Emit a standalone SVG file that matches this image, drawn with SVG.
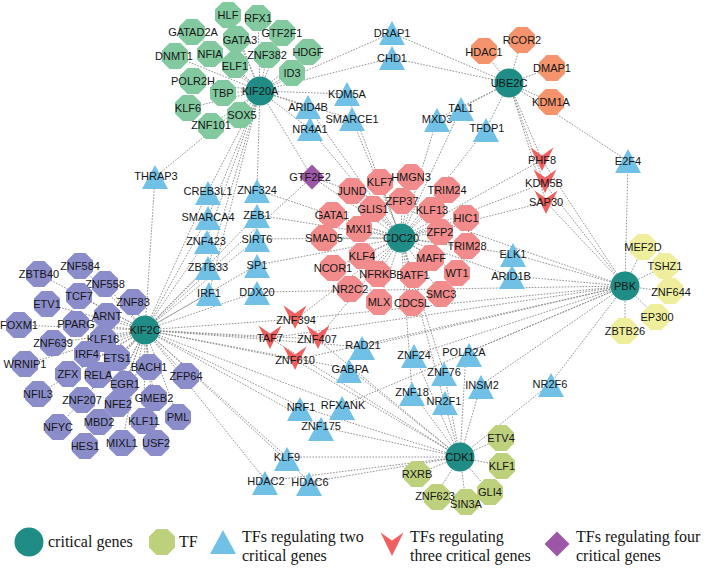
<svg xmlns="http://www.w3.org/2000/svg" xmlns:xlink="http://www.w3.org/1999/xlink" width="707" height="569" viewBox="0 0 707 569">
<style>
.e{stroke:#868686;stroke-width:0.9;stroke-dasharray:1.6 1.4;fill:none}
text{font-family:"Liberation Sans",Arial,sans-serif;font-size:11px;fill:#151515;text-anchor:middle;dominant-baseline:central}
.lg{font-family:"Liberation Serif","Times New Roman",serif;font-size:16px;text-anchor:start;dominant-baseline:alphabetic}
.crit{fill:#1f8d86}
.gA{fill:#82c99f}
.gU{fill:#f4936c}
.gC{fill:#f28c8c}
.gP{fill:#eeee9c}
.gK{fill:#8b8dcb}
.gD{fill:#bdd07c}
.two{fill:#71c1e7}
.three{fill:#ef5f5f}
.four{fill:#9c58a6}
</style>
<defs>
<circle id="cir" r="14.5"/>
<polygon id="oct" points="-5.4,-13 5.4,-13 13,-5.4 13,5.4 5.4,13 -5.4,13 -13,5.4 -13,-5.4"/>
<polygon id="tri" points="0,-12 13,12 -13,12"/>
<polygon id="vee" points="-11.5,-11.5 0,-3.5 11.5,-11.5 0,12"/>
<polygon id="dia" points="0,-12.5 12.5,0 0,12.5 -12.5,0"/>
</defs>
<rect width="707" height="569" fill="#fff"/>
<g id="edges">
<path class="e" d="M260,91L228,15M260,91L193,32M260,91L258,18M260,91L282,33M260,91L240,40M260,91L174,56M260,91L210,54M260,91L235,66M260,91L267,55M260,91L308,52M260,91L292,73M260,91L193,81M260,91L223,93M260,91L188,108M260,91L242,115M260,91L211,125"/>
<path class="e" d="M509,83L484,52M509,83L522,40M509,83L552,68M509,83L551,102"/>
<path class="e" d="M401,238L380,182M401,238L411,177M401,238L447,190M401,238L352,191M401,238L402,201M401,238L373,209M401,238L432,210M401,238L466,218M401,238L332,215M401,238L359,229M401,238L440,232M401,238L324,238M401,238L467,246M401,238L362,256M401,238L431,258M401,238L333,268M401,238L378,274M401,238L413,275M401,238L457,273M401,238L350,289M401,238L441,294M401,238L379,302M401,238L412,303"/>
<path class="e" d="M625,286L643,247M625,286L665,266M625,286L671,292M625,286L657,317M625,286L625,331"/>
<path class="e" d="M145,330L39,274M145,330L80,266M145,330L105,284M145,330L79,296M145,330L47,304M145,330L133,302M145,330L107,316M145,330L19,325M145,330L76,324M145,330L103,339M145,330L53,343M145,330L87,354M145,330L117,358M145,330L25,364M145,330L149,367M145,330L186,376M145,330L68,374M145,330L98,375M145,330L125,384M145,330L38,394M145,330L82,400M145,330L118,404M145,330L154,398M145,330L178,417M145,330L58,427M145,330L99,422M145,330L144,421M145,330L85,446M145,330L122,443M145,330L156,443"/>
<path class="e" d="M460,457L501,438M460,457L502,466M460,457L490,492M460,457L466,503M460,457L435,496M460,457L417,474"/>
<path class="e" d="M260,91L392,33L509,83M260,91L392,58L509,83M260,91L347,94L401,238M260,91L308,107L401,238M260,91L352,119L401,238M260,91L310,129L401,238M509,83L437,119L401,238M509,83L461,108L401,238M509,83L486,129L401,238M509,83L628,161L625,286M260,91L155,177L145,330M260,91L208,191L145,330M260,91L208,217L145,330M260,91L206,241L145,330M260,91L208,267L145,330M260,91L209,293L145,330M260,91L257,190L401,238M145,330L257,215L401,238M145,330L257,239L401,238M145,330L257,265L401,238M145,330L257,292L625,286M401,238L513,254L625,286M401,238L511,276L625,286M145,330L362,347L625,286M145,330L350,369L460,457M625,286L414,355L460,457M625,286L466,353L460,457M401,238L444,372L460,457M625,286L481,385L460,457M625,286L550,384L460,457M401,238L412,392L460,457M401,238L444,401L460,457M145,330L301,407L460,457M145,330L343,405L625,286M145,330L321,427L460,457M145,330L287,457L460,457M145,330L266,481L460,457M145,330L310,482L460,457"/>
<path class="e" d="M509,83L542,160L625,286M542,160L401,238M509,83L544,183L625,286M544,183L401,238M509,83L546,202L625,286M546,202L401,238M145,330L296,319L401,238M296,319L625,286M145,330L270,338L625,286M270,338L460,457M145,330L317,339L401,238M317,339L460,457M145,330L295,360L625,286M295,360L460,457"/>
<path class="e" d="M260,91L312,177L401,238M312,177L145,330M312,177L625,286"/>
</g>
<g id="nodes">
<g id="n-HLF"><use href="#oct" class="gA" x="228" y="15"/><text x="228" y="15">HLF</text></g>
<g id="n-GATAD2A"><use href="#oct" class="gA" x="192" y="32"/><text x="193" y="32">GATAD2A</text></g>
<g id="n-RFX1"><use href="#oct" class="gA" x="258" y="18"/><text x="258" y="18">RFX1</text></g>
<g id="n-GTF2F1"><use href="#oct" class="gA" x="282" y="33"/><text x="282" y="33">GTF2F1</text></g>
<g id="n-GATA3"><use href="#oct" class="gA" x="236" y="39"/><text x="240" y="40">GATA3</text></g>
<g id="n-DNMT1"><use href="#oct" class="gA" x="175" y="56"/><text x="174" y="56">DNMT1</text></g>
<g id="n-NFIA"><use href="#oct" class="gA" x="210" y="54"/><text x="210" y="54">NFIA</text></g>
<g id="n-ELF1"><use href="#oct" class="gA" x="235" y="65"/><text x="235" y="66">ELF1</text></g>
<g id="n-ZNF382"><use href="#oct" class="gA" x="267" y="55"/><text x="267" y="55">ZNF382</text></g>
<g id="n-HDGF"><use href="#oct" class="gA" x="308" y="52"/><text x="308" y="52">HDGF</text></g>
<g id="n-ID3"><use href="#oct" class="gA" x="292" y="73"/><text x="292" y="73">ID3</text></g>
<g id="n-POLR2H"><use href="#oct" class="gA" x="193" y="81"/><text x="193" y="81">POLR2H</text></g>
<g id="n-TBP"><use href="#oct" class="gA" x="223" y="93"/><text x="223" y="93">TBP</text></g>
<g id="n-KLF6"><use href="#oct" class="gA" x="188" y="108"/><text x="188" y="108">KLF6</text></g>
<g id="n-SOX5"><use href="#oct" class="gA" x="240" y="115"/><text x="242" y="115">SOX5</text></g>
<g id="n-ZNF101"><use href="#oct" class="gA" x="211" y="126"/><text x="211" y="125">ZNF101</text></g>

<g id="n-HDAC1"><use href="#oct" class="gU" x="484" y="51"/><text x="484" y="52">HDAC1</text></g>
<g id="n-RCOR2"><use href="#oct" class="gU" x="522" y="40"/><text x="522" y="40">RCOR2</text></g>
<g id="n-DMAP1"><use href="#oct" class="gU" x="552" y="68"/><text x="552" y="68">DMAP1</text></g>
<g id="n-KDM1A"><use href="#oct" class="gU" x="551" y="102"/><text x="551" y="102">KDM1A</text></g>

<g id="n-KLF7"><use href="#oct" class="gC" x="380" y="182"/><text x="380" y="182">KLF7</text></g>
<g id="n-HMGN3"><use href="#oct" class="gC" x="411" y="177"/><text x="411" y="177">HMGN3</text></g>
<g id="n-TRIM24"><use href="#oct" class="gC" x="447" y="190"/><text x="447" y="190">TRIM24</text></g>
<g id="n-JUND"><use href="#oct" class="gC" x="352" y="191"/><text x="352" y="191">JUND</text></g>
<g id="n-ZFP37"><use href="#oct" class="gC" x="402" y="201"/><text x="402" y="201">ZFP37</text></g>
<g id="n-GLIS1"><use href="#oct" class="gC" x="373" y="209"/><text x="373" y="209">GLIS1</text></g>
<g id="n-KLF13"><use href="#oct" class="gC" x="432" y="210"/><text x="432" y="210">KLF13</text></g>
<g id="n-HIC1"><use href="#oct" class="gC" x="466" y="218"/><text x="466" y="218">HIC1</text></g>
<g id="n-GATA1"><use href="#oct" class="gC" x="332" y="215"/><text x="332" y="215">GATA1</text></g>
<g id="n-MXI1"><use href="#oct" class="gC" x="359" y="229"/><text x="359" y="229">MXI1</text></g>
<g id="n-ZFP2"><use href="#oct" class="gC" x="440" y="232"/><text x="440" y="232">ZFP2</text></g>
<g id="n-SMAD5"><use href="#oct" class="gC" x="324" y="238"/><text x="324" y="238">SMAD5</text></g>
<g id="n-TRIM28"><use href="#oct" class="gC" x="467" y="246"/><text x="467" y="246">TRIM28</text></g>
<g id="n-KLF4"><use href="#oct" class="gC" x="362" y="256"/><text x="362" y="256">KLF4</text></g>
<g id="n-MAFF"><use href="#oct" class="gC" x="431" y="258"/><text x="431" y="258">MAFF</text></g>
<g id="n-NCOR1"><use href="#oct" class="gC" x="333" y="268"/><text x="333" y="268">NCOR1</text></g>
<g id="n-NFRKB"><use href="#oct" class="gC" x="378" y="274"/><text x="378" y="274">NFRKB</text></g>
<g id="n-BATF1"><use href="#oct" class="gC" x="413" y="275"/><text x="413" y="275">BATF1</text></g>
<g id="n-WT1"><use href="#oct" class="gC" x="457" y="273"/><text x="457" y="273">WT1</text></g>
<g id="n-NR2C2"><use href="#oct" class="gC" x="350" y="289"/><text x="350" y="289">NR2C2</text></g>
<g id="n-SMC3"><use href="#oct" class="gC" x="441" y="294"/><text x="441" y="294">SMC3</text></g>
<g id="n-MLX"><use href="#oct" class="gC" x="379" y="302"/><text x="379" y="302">MLX</text></g>
<g id="n-CDC5L"><use href="#oct" class="gC" x="412" y="303"/><text x="412" y="303">CDC5L</text></g>

<g id="n-MEF2D"><use href="#oct" class="gP" x="643" y="247"/><text x="643" y="247">MEF2D</text></g>
<g id="n-TSHZ1"><use href="#oct" class="gP" x="665" y="266"/><text x="665" y="266">TSHZ1</text></g>
<g id="n-ZNF644"><use href="#oct" class="gP" x="670" y="291"/><text x="671" y="292">ZNF644</text></g>
<g id="n-EP300"><use href="#oct" class="gP" x="656" y="317"/><text x="657" y="317">EP300</text></g>
<g id="n-ZBTB26"><use href="#oct" class="gP" x="624" y="331"/><text x="625" y="331">ZBTB26</text></g>

<g id="n-ZBTB40"><use href="#oct" class="gK" x="39" y="274"/><text x="39" y="274">ZBTB40</text></g>
<g id="n-ZNF584"><use href="#oct" class="gK" x="80" y="266"/><text x="80" y="266">ZNF584</text></g>
<g id="n-ZNF558"><use href="#oct" class="gK" x="105" y="284"/><text x="105" y="284">ZNF558</text></g>
<g id="n-TCF7"><use href="#oct" class="gK" x="79" y="296"/><text x="79" y="296">TCF7</text></g>
<g id="n-ETV1"><use href="#oct" class="gK" x="47" y="304"/><text x="47" y="304">ETV1</text></g>
<g id="n-ZNF83"><use href="#oct" class="gK" x="133" y="302"/><text x="133" y="302">ZNF83</text></g>
<g id="n-ARNT"><use href="#oct" class="gK" x="107" y="316"/><text x="107" y="316">ARNT</text></g>
<g id="n-FOXM1"><use href="#oct" class="gK" x="19" y="325"/><text x="19" y="325">FOXM1</text></g>
<g id="n-PPARG"><use href="#oct" class="gK" x="76" y="324"/><text x="76" y="324">PPARG</text></g>
<g id="n-KLF16"><use href="#oct" class="gK" x="103" y="339"/><text x="103" y="339">KLF16</text></g>
<g id="n-ZNF639"><use href="#oct" class="gK" x="53" y="343"/><text x="53" y="343">ZNF639</text></g>
<g id="n-IRF4"><use href="#oct" class="gK" x="87" y="354"/><text x="87" y="354">IRF4</text></g>
<g id="n-ETS1"><use href="#oct" class="gK" x="117" y="358"/><text x="117" y="358">ETS1</text></g>
<g id="n-WRNIP1"><use href="#oct" class="gK" x="25" y="364"/><text x="25" y="364">WRNIP1</text></g>
<g id="n-BACH1"><use href="#oct" class="gK" x="149" y="367"/><text x="149" y="367">BACH1</text></g>
<g id="n-ZFP64"><use href="#oct" class="gK" x="186" y="376"/><text x="186" y="376">ZFP64</text></g>
<g id="n-ZFX"><use href="#oct" class="gK" x="68" y="374"/><text x="68" y="374">ZFX</text></g>
<g id="n-RELA"><use href="#oct" class="gK" x="98" y="375"/><text x="98" y="375">RELA</text></g>
<g id="n-EGR1"><use href="#oct" class="gK" x="125" y="384"/><text x="125" y="384">EGR1</text></g>
<g id="n-NFIL3"><use href="#oct" class="gK" x="38" y="394"/><text x="38" y="394">NFIL3</text></g>
<g id="n-ZNF207"><use href="#oct" class="gK" x="82" y="400"/><text x="82" y="400">ZNF207</text></g>
<g id="n-NFE2"><use href="#oct" class="gK" x="118" y="404"/><text x="118" y="404">NFE2</text></g>
<g id="n-GMEB2"><use href="#oct" class="gK" x="154" y="398"/><text x="154" y="398">GMEB2</text></g>
<g id="n-PML"><use href="#oct" class="gK" x="178" y="417"/><text x="178" y="417">PML</text></g>
<g id="n-NFYC"><use href="#oct" class="gK" x="58" y="427"/><text x="58" y="427">NFYC</text></g>
<g id="n-MBD2"><use href="#oct" class="gK" x="99" y="422"/><text x="99" y="422">MBD2</text></g>
<g id="n-KLF11"><use href="#oct" class="gK" x="144" y="421"/><text x="144" y="421">KLF11</text></g>
<g id="n-HES1"><use href="#oct" class="gK" x="85" y="446"/><text x="85" y="446">HES1</text></g>
<g id="n-MIXL1"><use href="#oct" class="gK" x="122" y="443"/><text x="122" y="443">MIXL1</text></g>
<g id="n-USF2"><use href="#oct" class="gK" x="156" y="443"/><text x="156" y="443">USF2</text></g>

<g id="n-ETV4"><use href="#oct" class="gD" x="501" y="438"/><text x="501" y="438">ETV4</text></g>
<g id="n-KLF1"><use href="#oct" class="gD" x="502" y="466"/><text x="502" y="466">KLF1</text></g>
<g id="n-GLI4"><use href="#oct" class="gD" x="490" y="492"/><text x="490" y="492">GLI4</text></g>
<g id="n-SIN3A"><use href="#oct" class="gD" x="466" y="502"/><text x="466" y="504">SIN3A</text></g>
<g id="n-ZNF623"><use href="#oct" class="gD" x="437" y="497"/><text x="435" y="496">ZNF623</text></g>
<g id="n-RXRB"><use href="#oct" class="gD" x="417" y="474"/><text x="417" y="474">RXRB</text></g>

<g id="n-DRAP1"><use href="#tri" class="two" x="392" y="33"/><text x="392" y="33">DRAP1</text></g>
<g id="n-CHD1"><use href="#tri" class="two" x="392" y="58"/><text x="392" y="58">CHD1</text></g>
<g id="n-KDM5A"><use href="#tri" class="two" x="347" y="94"/><text x="347" y="94">KDM5A</text></g>
<g id="n-ARID4B"><use href="#tri" class="two" x="308" y="107"/><text x="308" y="107">ARID4B</text></g>
<g id="n-SMARCE1"><use href="#tri" class="two" x="352" y="119"/><text x="352" y="119">SMARCE1</text></g>
<g id="n-NR4A1"><use href="#tri" class="two" x="310" y="129"/><text x="310" y="129">NR4A1</text></g>
<g id="n-MXD3"><use href="#tri" class="two" x="437" y="120"/><text x="437" y="119">MXD3</text></g>
<g id="n-TAL1"><use href="#tri" class="two" x="461" y="109"/><text x="461" y="108">TAL1</text></g>
<g id="n-TFDP1"><use href="#tri" class="two" x="486" y="130"/><text x="487" y="128">TFDP1</text></g>
<g id="n-E2F4"><use href="#tri" class="two" x="628" y="161"/><text x="628" y="161">E2F4</text></g>
<g id="n-THRAP3"><use href="#tri" class="two" x="155" y="177"/><text x="156" y="176">THRAP3</text></g>
<g id="n-CREB3L1"><use href="#tri" class="two" x="208" y="193"/><text x="208" y="191">CREB3L1</text></g>
<g id="n-SMARCA4"><use href="#tri" class="two" x="208" y="218"/><text x="208" y="217">SMARCA4</text></g>
<g id="n-ZNF423"><use href="#tri" class="two" x="207" y="242"/><text x="206" y="241">ZNF423</text></g>
<g id="n-ZBTB33"><use href="#tri" class="two" x="208" y="268"/><text x="208" y="267">ZBTB33</text></g>
<g id="n-IRF1"><use href="#tri" class="two" x="209" y="294"/><text x="209" y="293">IRF1</text></g>
<g id="n-ZNF324"><use href="#tri" class="two" x="257" y="191"/><text x="257" y="190">ZNF324</text></g>
<g id="n-ZEB1"><use href="#tri" class="two" x="257" y="216"/><text x="257" y="215">ZEB1</text></g>
<g id="n-SIRT6"><use href="#tri" class="two" x="257" y="240"/><text x="257" y="239">SIRT6</text></g>
<g id="n-SP1"><use href="#tri" class="two" x="257" y="266"/><text x="257" y="265">SP1</text></g>
<g id="n-DDX20"><use href="#tri" class="two" x="257" y="293"/><text x="257" y="292">DDX20</text></g>
<g id="n-ELK1"><use href="#tri" class="two" x="513" y="255"/><text x="513" y="254">ELK1</text></g>
<g id="n-ARID1B"><use href="#tri" class="two" x="512" y="277"/><text x="511" y="276">ARID1B</text></g>
<g id="n-RAD21"><use href="#tri" class="two" x="362" y="348"/><text x="363" y="345">RAD21</text></g>
<g id="n-GABPA"><use href="#tri" class="two" x="349" y="371"/><text x="350" y="369">GABPA</text></g>
<g id="n-ZNF24"><use href="#tri" class="two" x="414" y="356"/><text x="414" y="355">ZNF24</text></g>
<g id="n-POLR2A"><use href="#tri" class="two" x="469" y="355"/><text x="464" y="352">POLR2A</text></g>
<g id="n-ZNF76"><use href="#tri" class="two" x="444" y="374"/><text x="444" y="372">ZNF76</text></g>
<g id="n-INSM2"><use href="#tri" class="two" x="481" y="387"/><text x="482" y="385">INSM2</text></g>
<g id="n-NR2F6"><use href="#tri" class="two" x="551" y="385"/><text x="550" y="384">NR2F6</text></g>
<g id="n-ZNF18"><use href="#tri" class="two" x="412" y="394"/><text x="412" y="392">ZNF18</text></g>
<g id="n-NR2F1"><use href="#tri" class="two" x="445" y="403"/><text x="444" y="401">NR2F1</text></g>
<g id="n-NRF1"><use href="#tri" class="two" x="300" y="409"/><text x="301" y="407">NRF1</text></g>
<g id="n-RFXANK"><use href="#tri" class="two" x="342" y="408"/><text x="343" y="405">RFXANK</text></g>
<g id="n-ZNF175"><use href="#tri" class="two" x="321" y="429"/><text x="321" y="426">ZNF175</text></g>
<g id="n-KLF9"><use href="#tri" class="two" x="287" y="459"/><text x="287" y="457">KLF9</text></g>
<g id="n-HDAC2"><use href="#tri" class="two" x="265" y="483"/><text x="266" y="481">HDAC2</text></g>
<g id="n-HDAC6"><use href="#tri" class="two" x="309" y="484"/><text x="310" y="482">HDAC6</text></g>

<g id="n-PHF8"><use href="#vee" class="three" x="542" y="159"/><text x="542" y="160">PHF8</text></g>
<g id="n-KDM5B"><use href="#vee" class="three" x="545" y="181"/><text x="544" y="183">KDM5B</text></g>
<g id="n-SAP30"><use href="#vee" class="three" x="546" y="202"/><text x="546" y="202">SAP30</text></g>
<g id="n-ZNF394"><use href="#vee" class="three" x="295" y="317"/><text x="296" y="320">ZNF394</text></g>
<g id="n-TAF7"><use href="#vee" class="three" x="270" y="337"/><text x="270" y="338">TAF7</text></g>
<g id="n-ZNF407"><use href="#vee" class="three" x="318" y="337"/><text x="317" y="339">ZNF407</text></g>
<g id="n-ZNF610"><use href="#vee" class="three" x="295" y="358"/><text x="295" y="360">ZNF610</text></g>

<g id="n-GTF2E2"><use href="#dia" class="four" x="312" y="177"/><text x="310" y="177">GTF2E2</text></g>

<g id="n-KIF20A"><use href="#cir" class="crit" x="260" y="91"/><text x="260" y="91">KIF20A</text></g>
<g id="n-UBE2C"><use href="#cir" class="crit" x="509" y="83"/><text x="509" y="83">UBE2C</text></g>
<g id="n-CDC20"><use href="#cir" class="crit" x="401" y="238"/><text x="401" y="238">CDC20</text></g>
<g id="n-KIF2C"><use href="#cir" class="crit" x="145" y="330"/><text x="145" y="330">KIF2C</text></g>
<g id="n-PBK"><use href="#cir" class="crit" x="625" y="286"/><text x="625" y="286">PBK</text></g>
<g id="n-CDK1"><use href="#cir" class="crit" x="460" y="457"/><text x="460" y="457">CDK1</text></g>
</g>
<g id="legend">
<use href="#cir" class="crit" x="29" y="542"/>
<text class="lg" x="48" y="547">critical genes</text>
<use href="#oct" class="gD" x="162" y="542"/>
<text class="lg" x="179" y="547">TF</text>
<use href="#tri" class="two" x="223" y="542"/>
<text class="lg" x="242" y="542">TFs regulating two</text>
<text class="lg" x="242" y="561">critical genes</text>
<use href="#vee" class="three" x="392" y="544"/>
<text class="lg" x="410" y="542">TFs regulating</text>
<text class="lg" x="410" y="561">three critical genes</text>
<use href="#dia" class="four" x="557" y="544"/>
<text class="lg" x="576" y="542">TFs regulating four</text>
<text class="lg" x="576" y="561">critical genes</text>
</g>
</svg>
